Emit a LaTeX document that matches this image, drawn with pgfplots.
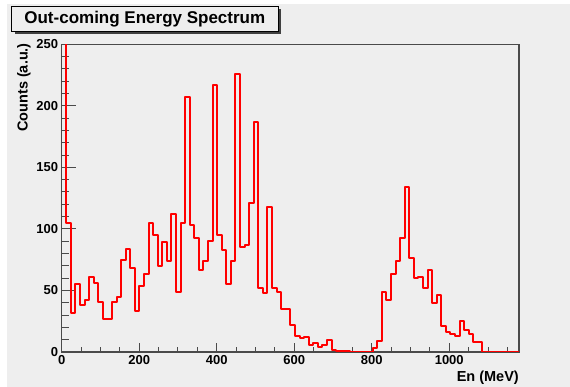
\documentclass[border=0pt]{standalone}
\usepackage{fontspec}
\setmainfont{Liberation Sans}
\usepackage{pgfplots}
\pgfplotsset{compat=1.18}
\definecolor{canvas}{HTML}{EEEEEE}
\definecolor{framec}{HTML}{4A4A4A}
\definecolor{histred}{HTML}{FF0000}
\pgfplotstableread{
x y
0 300
11.8 105
23.6 32
35.4 55
47.2 38
59 42
70.8 61
82.6 56
94.4 41
106.2 27
118 27
129.8 41
141.6 45
153.4 75
165.2 84
177 68
188.8 33
200.6 54
212.4 63
224.2 105
236 95
247.8 70
259.6 89
271.4 74
283.2 112
295 49
306.8 105
318.6 207
330.4 103
342.2 93
354 67
365.8 74
377.6 90
389.4 217
401.2 95
413 83
424.8 55
436.6 74
448.4 226
460.2 85
472 87
483.8 121
495.6 187
507.4 52
519.2 48
531 118
542.8 52
554.6 49
566.4 35
578.2 35
590 22
601.8 13
613.6 11
625.4 12
637.2 6
649 7
660.8 4
672.6 6
684.4 10
696.2 2
708 1
719.8 1
731.6 1
743.4 0
802.4 3
814.2 9
826 49
837.8 42
849.6 63
861.4 74
873.2 93
885 134
896.8 76
908.6 60
920.4 61
932.2 52
944 67
955.8 40
967.6 46
979.4 21
991.2 16
1003 15
1014.8 13
1026.6 25
1038.4 18
1050.2 15
1062 8
1073.8 8
1085.6 0
1180 0
}\spectrum
\begin{document}
\begin{tikzpicture}[x=1pt,y=1pt]
\useasboundingbox (0,0) rectangle (570,387);
\fill[white] (0,0) rectangle (570,387);
\fill[canvas] (7,0) rectangle (570,383);
% title box
\fill[black!75] (14.5,352.5) rectangle (281,377.5);
\filldraw[fill=canvas, draw=black, line width=0.8pt] (11.7,355.3) rectangle (278,380.3);
\node[font=\bfseries\fontsize{17}{17}\selectfont, inner sep=0pt] at (144.8,367.6) {Out-coming Energy Spectrum};
\begin{axis}[
  at={(61.7pt,35pt)}, anchor=south west,
  scale only axis, width=457.3pt, height=307.7pt,
  xmin=0, xmax=1180, ymin=0, ymax=250,
  axis background/.style={fill=canvas},
  axis line style={framec, line width=1.2pt},
  tick align=inside,
  xtick={0,200,...,1000},
  minor xtick={50,100,...,1150},
  ytick={0,50,...,250},
  minor ytick={10,20,...,240},
  xtick pos=bottom, ytick pos=left,
  major tick length=9pt, minor tick length=4.5pt,
  ytick style={/pgfplots/major tick length=14pt,/pgfplots/minor tick length=7.5pt},
  tick style={framec, line width=1pt},
  ticklabel style={font=\bfseries\fontsize{13}{13}\selectfont},
  /pgf/number format/assume math mode=true,
  /pgf/number format/1000 sep={},
  scaled ticks=false,
]
\addplot[const plot, draw=histred, line width=2pt, line join=round, line cap=round] table {\spectrum};
\end{axis}
\node[rotate=90, anchor=east, inner sep=0pt, font=\bfseries\fontsize{14.5}{14.5}\selectfont] at (24,344) {Counts (a.u.)};
\node[anchor=base east, inner sep=0pt, font=\bfseries\fontsize{14.5}{14.5}\selectfont] at (519,5) {En (MeV)};
\end{tikzpicture}
\end{document}
